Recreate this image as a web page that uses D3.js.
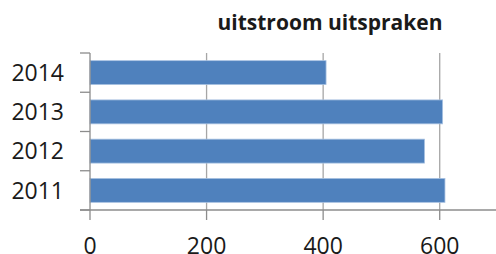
<!DOCTYPE html>
<html lang="en">
<head>
<meta charset="utf-8">
<script src="https://d3js.org/d3.v7.min.js"></script>
<style>
  body { margin: 0; background: #fff; }
  text { font-family: "Open Sans", sans-serif; fill: #1a1a1a; }
</style>
</head>
<body>
<div id="chart"></div>
<script>
// data
const years = ["2011", "2012", "2013", "2014"];
const uitstroom = [609, 574, 605, 405];
const xTicks = [0, 200, 400, 600];
const title = "uitstroom uitspraken";

const width = 496, height = 254;
const plotLeft = 90, plotRight = 498, plotTop = 53, plotBottom = 210;

const svg = d3.select("#chart").append("svg")
    .attr("width", width)
    .attr("height", height);

const x = d3.scaleLinear().domain([0, 700]).range([plotLeft, plotRight]);
const y = d3.scaleBand().domain(years.slice().reverse()).range([plotTop, plotBottom]).paddingInner(0.39).paddingOuter(0.195);
const yEdges = d3.scaleBand().domain(years.slice().reverse()).range([plotTop, plotBottom]);

// vertical gridlines
svg.append("g").selectAll("line")
    .data(xTicks.slice(1))
    .join("line")
    .attr("x1", d => x(d)).attr("x2", d => x(d))
    .attr("y1", plotTop).attr("y2", plotBottom)
    .attr("stroke", "#a6a6a6").attr("stroke-width", 1.3);

// bars
svg.append("g").selectAll("rect")
    .data(years)
    .join("rect")
    .attr("x", x(0))
    .attr("y", d => y(d))
    .attr("width", (d, i) => x(uitstroom[i]) - x(0))
    .attr("height", y.bandwidth())
    .attr("fill", "#4f81bd")
    .attr("stroke", "#a9c2e2")
    .attr("stroke-width", 0.8);

// y axis line + category separator ticks
const axisColor = "#8c8c8c";
svg.append("line")
    .attr("x1", plotLeft).attr("x2", plotLeft).attr("y1", plotTop).attr("y2", plotBottom)
    .attr("stroke", axisColor).attr("stroke-width", 1.3);
const edges = yEdges.domain().map(d => yEdges(d)).concat([plotBottom]);
svg.append("g").selectAll("line")
    .data(edges)
    .join("line")
    .attr("x1", plotLeft - 10).attr("x2", plotLeft)
    .attr("y1", d => d).attr("y2", d => d)
    .attr("stroke", axisColor).attr("stroke-width", 1.3);

// y labels
svg.append("g").selectAll("text")
    .data(years)
    .join("text")
    .attr("x", plotLeft - 26)
    .attr("y", d => yEdges(d) + yEdges.bandwidth() / 2)
    .attr("dy", "0.36em")
    .attr("text-anchor", "end")
    .style("font-size", "23px")
    .text(d => d);

// x axis
svg.append("line")
    .attr("x1", plotLeft - 10).attr("x2", width).attr("y1", plotBottom).attr("y2", plotBottom)
    .attr("stroke", axisColor).attr("stroke-width", 1.3);
svg.append("g").selectAll("line")
    .data(xTicks)
    .join("line")
    .attr("x1", d => x(d)).attr("x2", d => x(d))
    .attr("y1", plotBottom).attr("y2", plotBottom + 10)
    .attr("stroke", axisColor).attr("stroke-width", 1.3);
svg.append("g").selectAll("text")
    .data(xTicks)
    .join("text")
    .attr("x", d => x(d))
    .attr("y", 254)
    .attr("text-anchor", "middle")
    .style("font-size", "23px")
    .text(d => d);

// title
svg.append("text")
    .attr("x", 330)
    .attr("y", 29.5)
    .attr("text-anchor", "middle")
    .style("font-size", "21px")
    .style("font-weight", "bold")
    .text(title);
</script>
</body>
</html>
